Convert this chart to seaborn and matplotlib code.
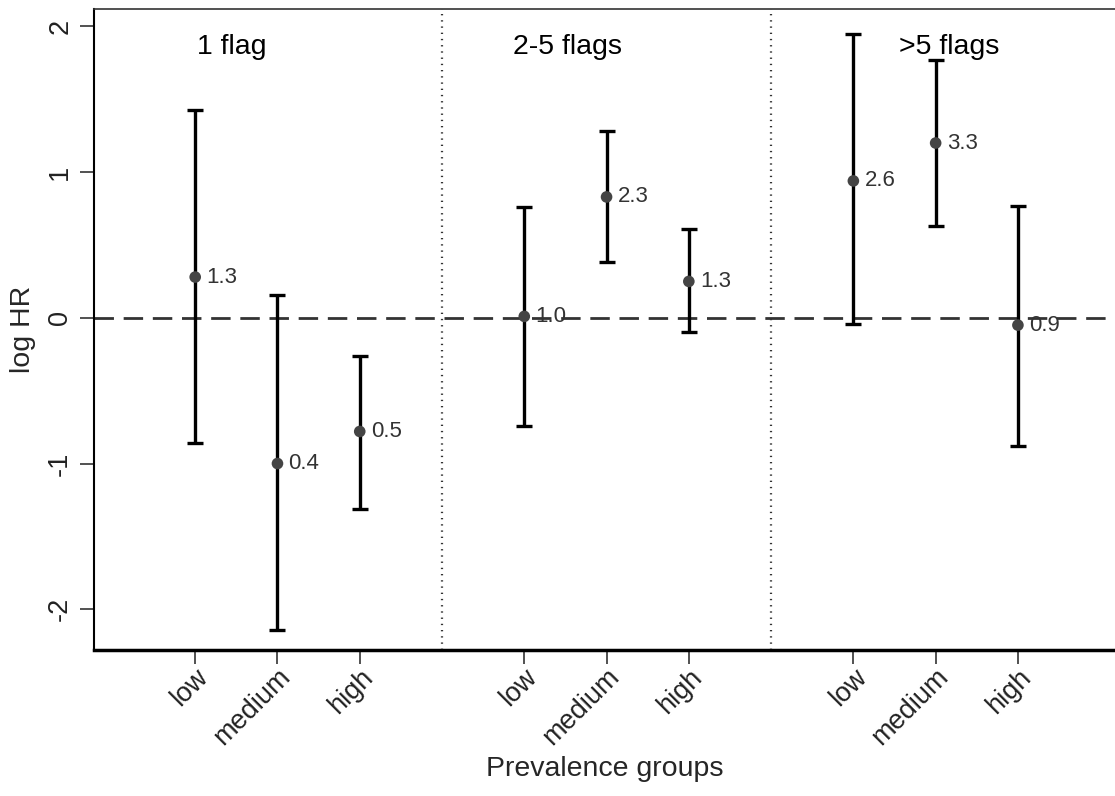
import numpy as np
import pandas as pd
import matplotlib
matplotlib.use("Agg")
import matplotlib.pyplot as plt
import seaborn as sns

# Data (log HR with confidence limits)
groups = ["1 flag", "2-5 flags", ">5 flags"]
levels = ["low", "medium", "high"]
log_hr = [0.28, -1.00, -0.78, 0.01, 0.83, 0.25, 0.94, 1.20, -0.05]
ci_low = [-0.86, -2.14, -1.31, -0.74, 0.38, -0.10, -0.04, 0.63, -0.88]
ci_high = [1.43, 0.16, -0.26, 0.76, 1.28, 0.61, 1.95, 1.77, 0.77]
hr_labels = ["1.3", "0.4", "0.5", "1.0", "2.3", "1.3", "2.6", "3.3", "0.9"]

# positions: 3 per group, a blank slot between groups
pos = []
for g in range(len(groups)):
    pos += [g * 4 + i + 1 for i in range(len(levels))]

df = pd.DataFrame({
    "pos": pos,
    "group": np.repeat(groups, len(levels)),
    "level": levels * len(groups),
    "loghr": log_hr,
    "lo": ci_low,
    "hi": ci_high,
    "label": hr_labels,
})

sns.set_style("white")
plt.rcParams["font.family"] = ["Liberation Sans", "DejaVu Sans"]

fig = plt.figure(figsize=(11.15, 7.96), dpi=100)
ax = fig.add_axes([94 / 1115, 1 - 650 / 796, 1 - 94 / 1115, (650 - 9) / 796])

# reference line and dividers
ax.axhline(0, color="#333333", lw=2, ls=(0, (7, 3.5)), zorder=1)
for d in [4, 8]:
    ax.axvline(d, color="#333333", lw=1.6, ls=(0, (0.6, 2.2)), zorder=1)

# confidence intervals
ax.errorbar(df["pos"], df["loghr"],
            yerr=[df["loghr"] - df["lo"], df["hi"] - df["loghr"]],
            fmt="none", ecolor="black", elinewidth=2.4, capsize=5.5,
            capthick=2.4, zorder=2)

sns.scatterplot(data=df, x="pos", y="loghr", ax=ax, color="#444444",
                s=70, edgecolor="none", zorder=3, legend=False)

for _, r in df.iterrows():
    ax.annotate(r["label"], (r["pos"], r["loghr"]), xytext=(8, 0),
                textcoords="offset points", va="center", ha="left",
                fontsize=16, color="#333333")

# group titles
title_x = [1.45, 5.52, 10.17]
for gx, name in zip(title_x, groups):
    ax.text(gx, 1.86, name, ha="center", va="center", fontsize=20.5,
            color="black")

ax.set_xlim(-0.23, 12.18)
ax.set_ylim(-2.28, 2.12)

ax.set_xticks(df["pos"])
ax.set_xticklabels(df["level"], rotation=45, ha="right",
                   rotation_mode="anchor", fontsize=19.5, color="#222222")
ax.set_yticks([-2, -1, 0, 1, 2])
ax.set_yticklabels(["-2", "-1", "0", "1", "2"], rotation=90, va="center",
                   fontsize=19.5, color="#222222")
ax.tick_params(axis="both", direction="out", length=10, width=1.2,
               color="#333333", bottom=True, left=True)
ax.tick_params(axis="x", pad=0)
ax.tick_params(axis="y", pad=5)

ax.set_xlabel("Prevalence groups", fontsize=20.5, labelpad=4)
ax.set_ylabel("log HR", fontsize=20.5, labelpad=8)

ax.spines["right"].set_visible(False)
ax.spines["top"].set_linewidth(1.2)
ax.spines["top"].set_color("#333333")
ax.spines["left"].set_linewidth(1.5)
ax.spines["left"].set_color("black")
ax.spines["bottom"].set_linewidth(2.5)
ax.spines["bottom"].set_color("black")

fig.savefig("out.png", dpi=100)
